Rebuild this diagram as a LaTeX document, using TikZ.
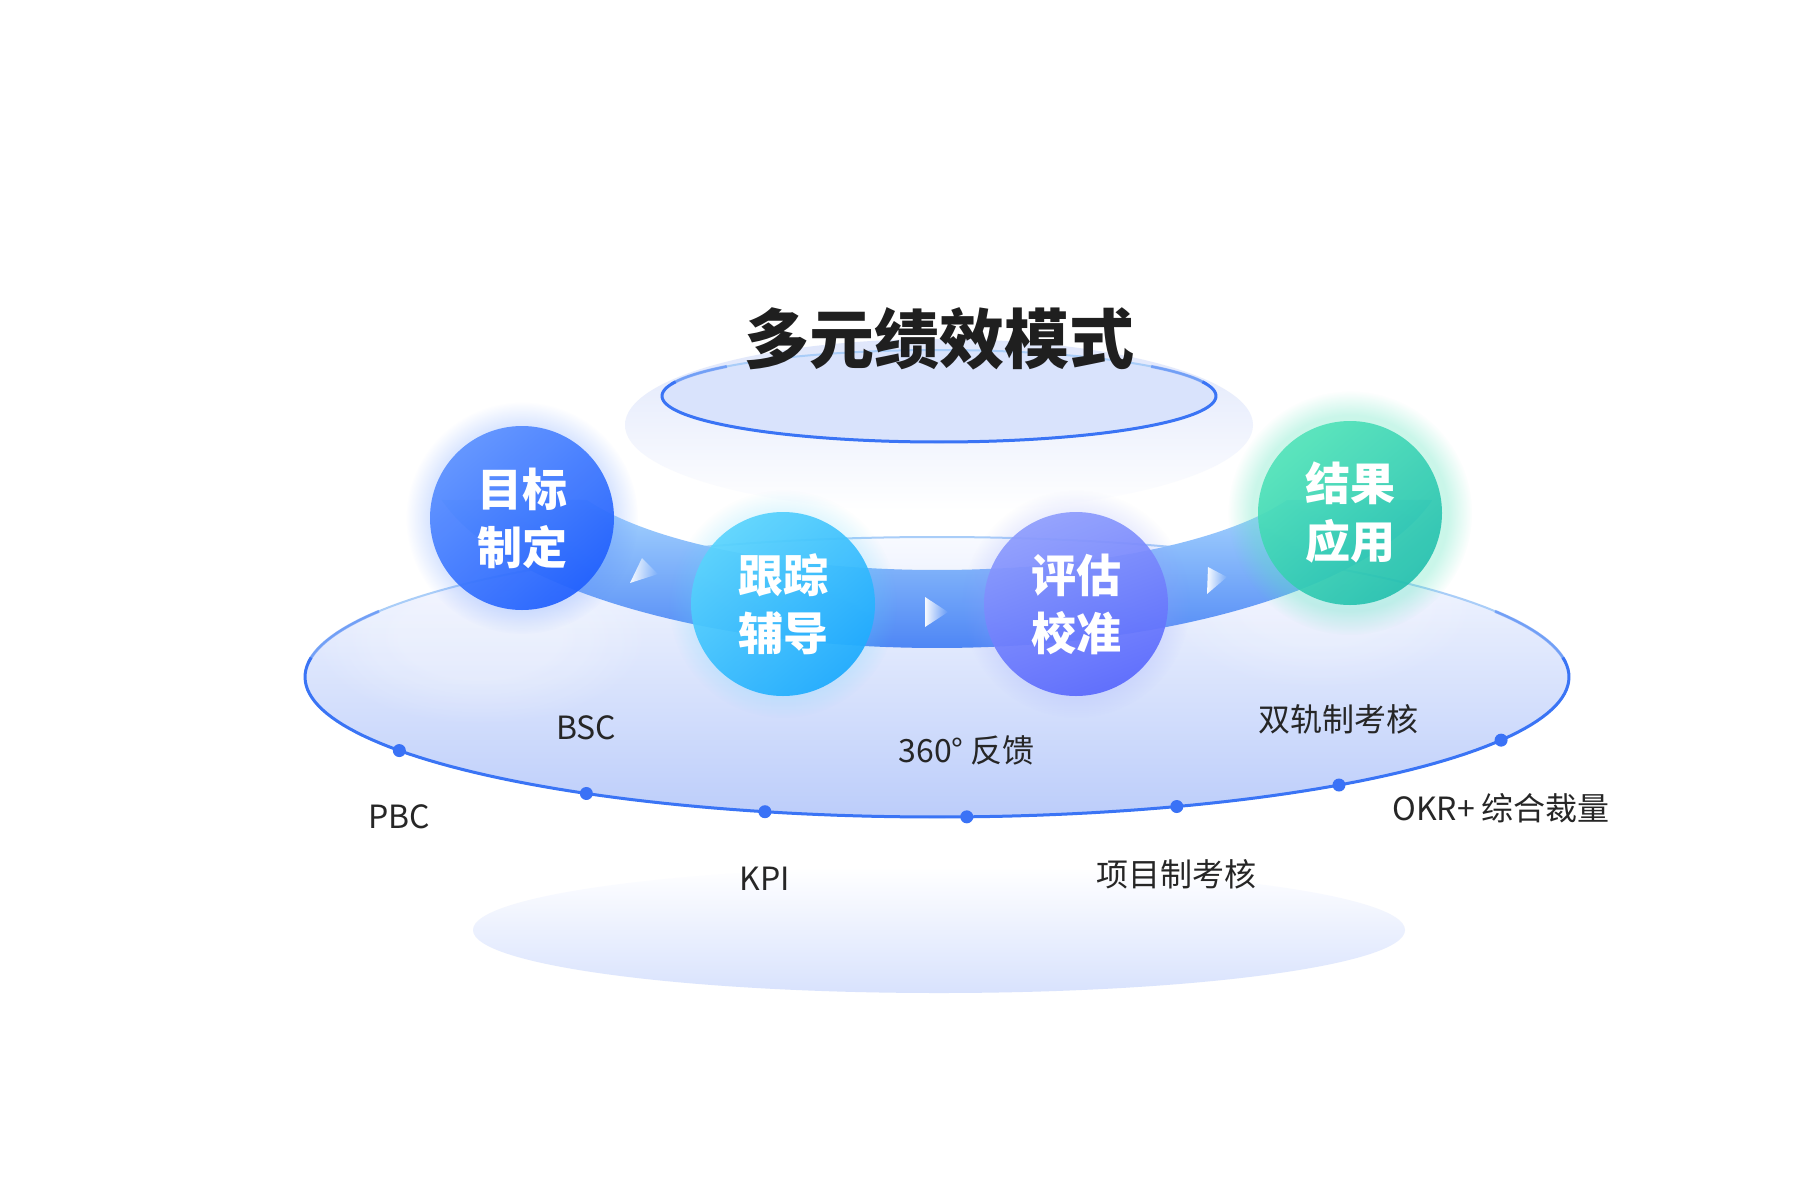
\documentclass[tikz,border=0pt]{standalone}
\usepackage{fontspec}
\setmainfont{Noto Sans CJK SC}
\usetikzlibrary{calc,fadings}
\definecolor{txt}{HTML}{262626}
\definecolor{titlec}{HTML}{1F1F1F}
\definecolor{dotblue}{HTML}{3A72F6}
\definecolor{strong}{HTML}{3A74F5}
\definecolor{lightline}{HTML}{A9CDF8}
\definecolor{topfill}{HTML}{D9E3FC}
\definecolor{glowt}{HTML}{DFE6FB}
\definecolor{glowb}{HTML}{D8E2FD}
\definecolor{bigt}{HTML}{F8FAFF}
\definecolor{bigb}{HTML}{BCCDFA}
\definecolor{bandt}{HTML}{A8D6FE}
\definecolor{bandb}{HTML}{4E86F5}
\definecolor{c1t}{HTML}{5B90FF}
\definecolor{c1b}{HTML}{2160FE}
\definecolor{c2t}{HTML}{5BD4FD}
\definecolor{c2b}{HTML}{1EABFE}
\definecolor{c3t}{HTML}{8F9EFD}
\definecolor{c3b}{HTML}{5A69FD}
\definecolor{c4t}{HTML}{50E3B9}
\definecolor{c4b}{HTML}{22BFAE}
\begin{document}
\begin{tikzpicture}[x=0.5pt,y=-0.5pt,
  lbl/.style={font=\fontsize{16}{18}\selectfont, text=txt, inner sep=0pt},
  dotst/.style={circle, fill=dotblue, inner sep=0pt, minimum size=6.5pt},
  ball/.style={circle, minimum size=92pt, inner sep=0pt, align=center, text=white,
     font=\fontsize{22.5}{29}\selectfont\bfseries, fill opacity=0.93, text opacity=1},
  arrowst/.style={fill=white, fill opacity=0.95, path fading=east},
  halo/.style={path fading=circle with fuzzy edge 20 percent},
]
\fill[white] (0,0) rectangle (1800,1200);
\useasboundingbox (0,0) rectangle (1800,1200);

% bottom glow
\shade[top color=white, bottom color=glowb] (939,930) ellipse (466 and 63);
% top glow
\shade[top color=glowt, bottom color=white] (939,425) ellipse (314 and 86);

% big ellipse
\shade[top color=bigt, bottom color=bigb] (937,677) ellipse (632 and 140);
\foreach \s in {1,0.8,0.6}{
  \fill[white, opacity=0.12, halo] (480,635) ellipse ({170*\s} and {90*\s});
  \fill[white, opacity=0.10, halo] (1320,600) ellipse ({160*\s} and {90*\s});
}
\draw[line width=1pt, lightline] (937,677) ellipse (632 and 140);
\draw[line width=1.5pt, strong, opacity=0.5] plot[domain=-28:-6, samples=30] ({937+632*cos(\x)},{677+140*sin(\x)});
\draw[line width=1.5pt, strong, opacity=0.5] plot[domain=186:208, samples=30] ({937+632*cos(\x)},{677+140*sin(\x)});
\draw[line width=1.5pt, strong] plot[domain=-8:188, samples=120] ({937+632*cos(\x)},{677+140*sin(\x)});

% top ellipse
\fill[topfill] (939,396) ellipse (277 and 46);
\draw[lightline, line width=1pt] (939,396) ellipse (277 and 46);
\draw[strong, line width=1.5pt, opacity=0.5] plot[domain=-40:-15, samples=30] ({939+277*cos(\x)},{396+46*sin(\x)});
\draw[strong, line width=1.5pt, opacity=0.5] plot[domain=195:220, samples=30] ({939+277*cos(\x)},{396+46*sin(\x)});
\draw[strong, line width=1.5pt] plot[domain=-18:198, samples=100] ({939+277*cos(\x)},{396+46*sin(\x)});

% title
\node[font=\fontsize{32.5}{36}\selectfont\bfseries, text=titlec] (title) at (939,339) {多元绩效模式};

% band
\shade[top color=bandt, bottom color=bandb]
  plot[domain=14.6:165.4, samples=90] ({937+512*cos(\x)},{450+198*sin(\x)})
  -- plot[domain=155.4:24.6, samples=90] ({937+385*cos(\x)},{450+120*sin(\x)}) -- cycle;

% arrows on band
\fill[arrowst] (642,558) -- (658,574) -- (630,583) -- cycle;
\fill[arrowst] (925,597) -- (948,612) -- (925,627) -- cycle;
\fill[arrowst] (1208,567) -- (1227,577) -- (1207,594) -- cycle;

% halos
\fill[c1t, opacity=0.22, halo] (522,518) circle (116);
\fill[c2t, opacity=0.18, halo] (783,604) circle (114);
\fill[c3t, opacity=0.18, halo] (1076,604) circle (114);
\fill[c4t, opacity=0.30, halo] (1350,513) circle (122);

% circles
\node[ball, top color=c1t, bottom color=c1b, shading angle=40] (goal) at (522,518) {目标\\制定};
\node[ball, top color=c2t, bottom color=c2b, shading angle=40] (track) at (783,604) {跟踪\\辅导};
\node[ball, top color=c3t, bottom color=c3b, shading angle=20] (eval) at (1076,604) {评估\\校准};
\node[ball, top color=c4t, bottom color=c4b, shading angle=40, fill opacity=0.9] (result) at (1350,513) {结果\\应用};

% dots
\node[dotst] (d1) at ({937+632*cos(148.3)},{677+140*sin(148.3)}) {};
\node[dotst] (d2) at ({937+632*cos(123.7)},{677+140*sin(123.7)}) {};
\node[dotst] (d3) at ({937+632*cos(105.8)},{677+140*sin(105.8)}) {};
\node[dotst] (d4) at ({937+632*cos(87.3)},{677+140*sin(87.3)}) {};
\node[dotst] (d5) at ({937+632*cos(67.7)},{677+140*sin(67.7)}) {};
\node[dotst] (d6) at ({937+632*cos(50.5)},{677+140*sin(50.5)}) {};
\node[dotst] (d7) at ({937+632*cos(26.8)},{677+140*sin(26.8)}) {};

% labels
\node[lbl] (l1) at ($(d1)+(0,66)$) {PBC};
\node[lbl] (l2) at ($(d2)+(0,-66)$) {BSC};
\node[lbl] (l3) at ($(d3)+(0,67)$) {KPI};
\node[lbl] (l4) at ($(d4)+(0,-66)$) {360° 反馈};
\node[lbl] (l5) at ($(d5)+(0,68)$) {项目制考核};
\node[lbl] (l6) at ($(d6)+(0,-66)$) {双轨制考核};
\node[lbl] (l7) at ($(d7)+(0,68)$) {OKR+ 综合裁量};
\end{tikzpicture}
\end{document}
